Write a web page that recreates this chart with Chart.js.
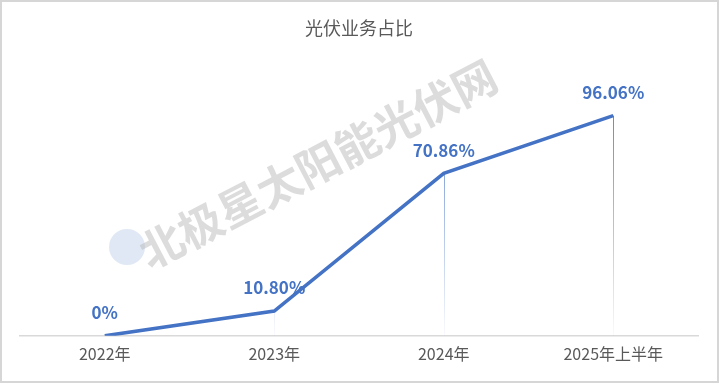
<!DOCTYPE html>
<html>
<head>
<meta charset="utf-8">
<script src="https://cdn.jsdelivr.net/npm/chart.js@4/dist/chart.umd.min.js"></script>
<style>
  html, body { margin: 0; padding: 0; background: #ffffff; }
  #frame { position: absolute; left: 0; top: 0; width: 715px; height: 379px; border: 2px solid #d6d6d6; background: #fff; }
  #c { display: block; }
</style>
</head>
<body>
<div id="frame"><canvas id="c" width="715" height="379"></canvas></div>
<script>
const titleText = '光伏业务占比';
const categories = ['2022年', '2023年', '2024年', '2025年上半年'];
const shareValues = [0, 10.80, 70.86, 96.06];
const valueLabels = ['0%', '10.80%', '70.86%', '96.06%'];
const watermarkText = '北极星太阳能光伏网';

const FONT = '"Noto Sans CJK SC", "Noto Sans", sans-serif';

const watermarkPlugin = {
  id: 'watermark',
  beforeDatasetsDraw(chart) {
    const ctx = chart.ctx;
    ctx.save();
    ctx.fillStyle = 'rgba(150,180,220,0.3)';
    ctx.beginPath();
    ctx.arc(125, 245, 18, 0, Math.PI * 2);
    ctx.fill();
    ctx.translate(316, 162);
    ctx.rotate(-27.5 * Math.PI / 180);
    ctx.font = 'bold 44px ' + FONT;
    ctx.fillStyle = 'rgba(185,185,185,0.5)';
    ctx.textAlign = 'center';
    ctx.textBaseline = 'middle';
    ctx.fillText(watermarkText, 0, 0);
    ctx.restore();
  }
};

const dropLinePlugin = {
  id: 'dropLines',
  beforeDatasetsDraw(chart) {
    const ctx = chart.ctx;
    const xs = chart.scales.x, ys = chart.scales.y;
    const area = chart.chartArea;
    ctx.save();
    const g = ctx.createLinearGradient(0, area.top, 0, area.bottom);
    g.addColorStop(0, 'rgba(68,114,196,0.85)');
    g.addColorStop(1, 'rgba(68,114,196,0.03)');
    ctx.strokeStyle = g;
    ctx.lineWidth = 1;
    shareValues.forEach((v, i) => {
      if (v <= 0) return;
      const x = Math.round(xs.getPixelForValue(i)) + 0.5;
      const y = ys.getPixelForValue(v);
      ctx.beginPath();
      ctx.moveTo(x, y);
      ctx.lineTo(x, area.bottom);
      ctx.stroke();
    });
    ctx.restore();
  }
};

const valueLabelPlugin = {
  id: 'valueLabels',
  afterDatasetsDraw(chart) {
    const ctx = chart.ctx;
    const xs = chart.scales.x, ys = chart.scales.y;
    ctx.save();
    ctx.font = 'bold 17px ' + FONT;
    ctx.fillStyle = '#4472C4';
    ctx.textAlign = 'center';
    ctx.textBaseline = 'middle';
    shareValues.forEach((v, i) => {
      ctx.fillText(valueLabels[i], xs.getPixelForValue(i), ys.getPixelForValue(v) - 23);
    });
    ctx.restore();
  }
};

new Chart(document.getElementById('c'), {
  type: 'line',
  data: {
    labels: categories,
    datasets: [{
      data: shareValues,
      borderColor: '#4472C4',
      borderWidth: 3.5,
      pointRadius: 0,
      tension: 0,
      fill: false
    }]
  },
  options: {
    responsive: false,
    animation: false,
    layout: { padding: { left: 18, right: 19, top: 0, bottom: 8 } },
    plugins: {
      legend: { display: false },
      tooltip: { enabled: false },
      title: {
        display: true,
        text: titleText,
        color: '#595959',
        font: { family: FONT, size: 18, weight: 'normal' },
        padding: { top: 15, bottom: 68 }
      }
    },
    scales: {
      x: {
        offset: true,
        grid: { display: false, drawTicks: false },
        border: { display: true, color: '#d9d9d9', width: 1.5 },
        ticks: { color: '#595959', font: { family: FONT, size: 16 }, padding: 9, maxRotation: 0 }
      },
      y: { display: false, min: 0, max: 100 }
    }
  },
  plugins: [watermarkPlugin, dropLinePlugin, valueLabelPlugin]
});
</script>
</body>
</html>
